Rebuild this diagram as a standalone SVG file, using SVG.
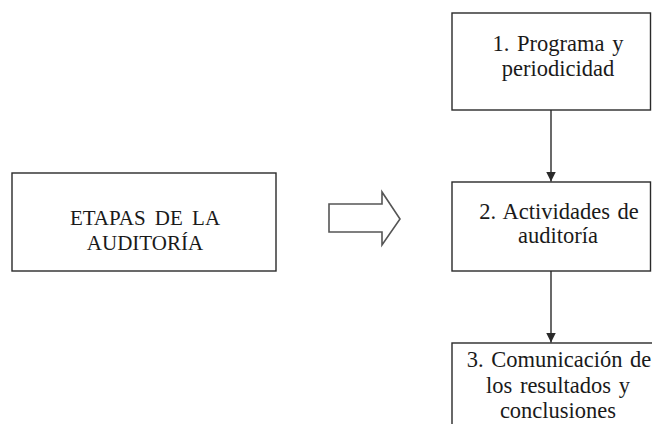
<svg xmlns="http://www.w3.org/2000/svg" width="652" height="424" viewBox="0 0 652 424">
<defs>
<style>
.box{fill:#fff;stroke:#2a2a2a;stroke-width:1.4}
.t{font-family:"Liberation Serif","Times New Roman",serif;font-size:22.5px;fill:#1a1a1a;text-anchor:middle;word-spacing:2px}
.tl{font-size:21px;word-spacing:4px}
.conn{stroke:#2a2a2a;stroke-width:1.4;fill:none}
.big{fill:#fff;stroke:#555;stroke-width:1.6;stroke-linejoin:miter}
</style>
<marker id="ah" viewBox="0 0 10 10" refX="10" refY="5" markerWidth="7" markerHeight="7" markerUnits="strokeWidth" orient="auto">
<path d="M0,0 L10,5 L0,10 z" fill="#2a2a2a"/>
</marker>
</defs>
<rect width="652" height="424" fill="#fff"/>
<g id="etapas">
<rect class="box" x="12" y="173" width="264" height="98"/>
<text class="t tl" x="145" y="225">ETAPAS DE LA</text>
<text class="t tl" x="145" y="250">AUDITORÍA</text>
</g>
<g id="flecha">
<path class="big" d="M329,204 L382,204 L382,192 L400,219 L382,245 L382,232 L329,232 Z"/>
</g>
<g id="n1">
<rect class="box" x="452" y="13" width="198.5" height="97"/>
<text class="t" x="558" y="51">1. Programa y</text>
<text class="t" x="558" y="76">periodicidad</text>
</g>
<g id="n2">
<rect class="box" x="452" y="182" width="198.5" height="89"/>
<text class="t" x="559" y="219">2. Actividades de</text>
<text class="t" x="558" y="243">auditoría</text>
</g>
<g id="n3">
<rect class="box" x="452" y="343" width="210" height="100"/>
<text class="t" x="559" y="367">3. Comunicación de</text>
<text class="t" x="558" y="393">los resultados y</text>
<text class="t" x="558" y="418">conclusiones</text>
</g>
<g id="connectors">
<line class="conn" x1="551" y1="110" x2="551" y2="181.5" marker-end="url(#ah)"/>
<line class="conn" x1="551" y1="271" x2="551" y2="342.5" marker-end="url(#ah)"/>
</g>
</svg>
